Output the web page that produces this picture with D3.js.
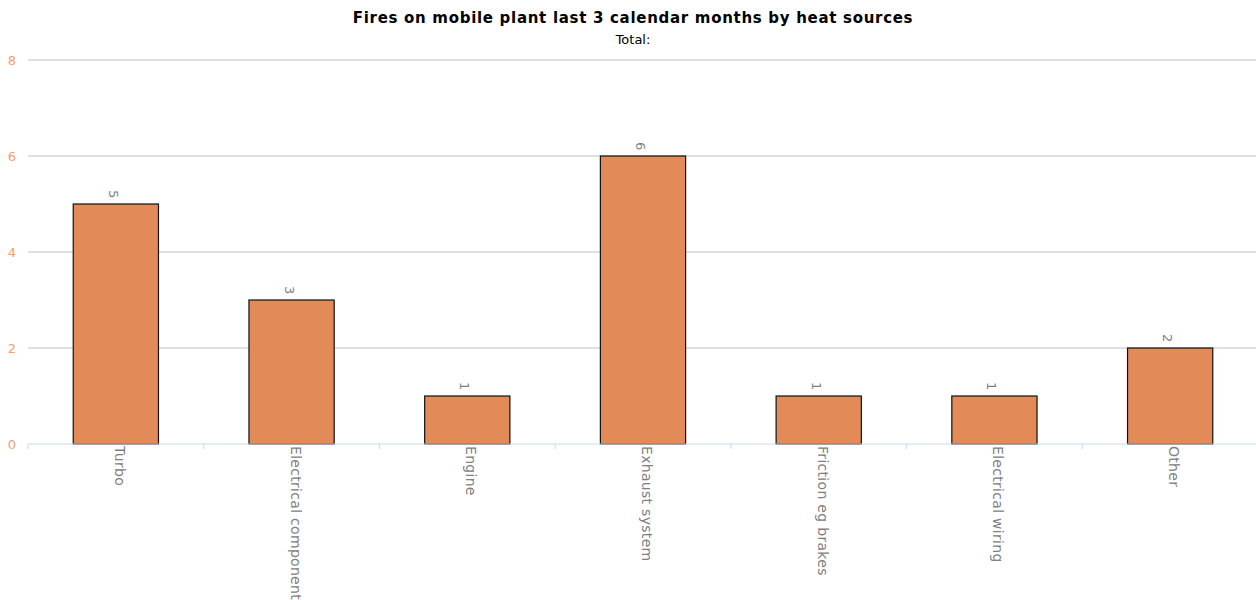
<!DOCTYPE html>
<html>
<head>
<meta charset="utf-8">
<script src="https://cdn.jsdelivr.net/npm/d3@7"></script>
<style>
  body { margin: 0; background: #fff; }
  text { font-family: "DejaVu Sans", sans-serif; }
</style>
</head>
<body>
<svg id="chart" width="1256" height="600"></svg>
<script>
const categories = ['Turbo', 'Electrical component', 'Engine', 'Exhaust system', 'Friction eg brakes', 'Electrical wiring', 'Other'];
const values = [5, 3, 1, 6, 1, 1, 2];
const yTicks = [0, 2, 4, 6, 8];

const svg = d3.select('#chart');
const margin = { top: 60, left: 28 };
const width = 1230;
const height = 384;

svg.append('text')
    .attr('x', 633).attr('y', 23)
    .attr('text-anchor', 'middle')
    .attr('font-size', 15).attr('font-weight', 'bold')
    .attr('letter-spacing', 0.7)
    .text('Fires on mobile plant last 3 calendar months by heat sources');
svg.append('text')
    .attr('x', 633).attr('y', 44)
    .attr('text-anchor', 'middle')
    .attr('font-size', 13)
    .text('Total:');

const g = svg.append('g').attr('transform', `translate(${margin.left},${margin.top})`);

const x = d3.scaleBand().domain(categories).range([0, width]).paddingInner(0.515).paddingOuter(0.2575);
const y = d3.scaleLinear().domain([0, 8]).range([height, 0]);

// grid lines
g.selectAll('.grid')
    .data(yTicks.filter(d => d > 0))
    .join('line')
    .attr('x1', 0).attr('x2', width)
    .attr('y1', d => y(d)).attr('y2', d => y(d))
    .attr('stroke', '#c0c0c0').attr('stroke-width', 1);

// y labels
g.selectAll('.ylab')
    .data(yTicks)
    .join('text')
    .attr('x', -12).attr('y', d => y(d) + 5)
    .attr('text-anchor', 'end')
    .attr('font-size', 13)
    .attr('fill', '#f0a070')
    .text(d => d);

// bars
g.selectAll('.bar')
    .data(values)
    .join('rect')
    .attr('x', (d, i) => x(categories[i]))
    .attr('y', d => y(d))
    .attr('width', x.bandwidth())
    .attr('height', d => height - y(d))
    .attr('fill', '#e28a58')
    .attr('stroke', '#111').attr('stroke-width', 1.2);

// x axis line and ticks
g.append('line')
    .attr('x1', 0).attr('x2', width)
    .attr('y1', height).attr('y2', height)
    .attr('stroke', '#c8d8e8');
const step = x.step();
g.selectAll('.xtick')
    .data(d3.range(categories.length + 1))
    .join('line')
    .attr('x1', d => d * step).attr('x2', d => d * step)
    .attr('y1', height).attr('y2', height + 5)
    .attr('stroke', '#c8d8e8');

// category labels, rotated
g.selectAll('.xlab')
    .data(categories)
    .join('text')
    .attr('transform', d => `translate(${x(d) + x.bandwidth() / 2 - 1},${height + 2}) rotate(90)`)
    .attr('font-family', '"Liberation Sans", Arial, sans-serif')
    .attr('font-size', 14)
    .attr('letter-spacing', 0.3)
    .attr('fill', '#808080')
    .text(d => d);

// value labels
g.selectAll('.vlab')
    .data(values)
    .join('text')
    .attr('transform', (d, i) => `translate(${x(categories[i]) + x.bandwidth() / 2 - 7},${y(d) - 14}) rotate(90)`)
    .attr('font-family', '"Liberation Sans", Arial, sans-serif')
    .attr('font-size', 13)
    .attr('fill', '#808080')
    .text(d => d);
</script>
</body>
</html>
